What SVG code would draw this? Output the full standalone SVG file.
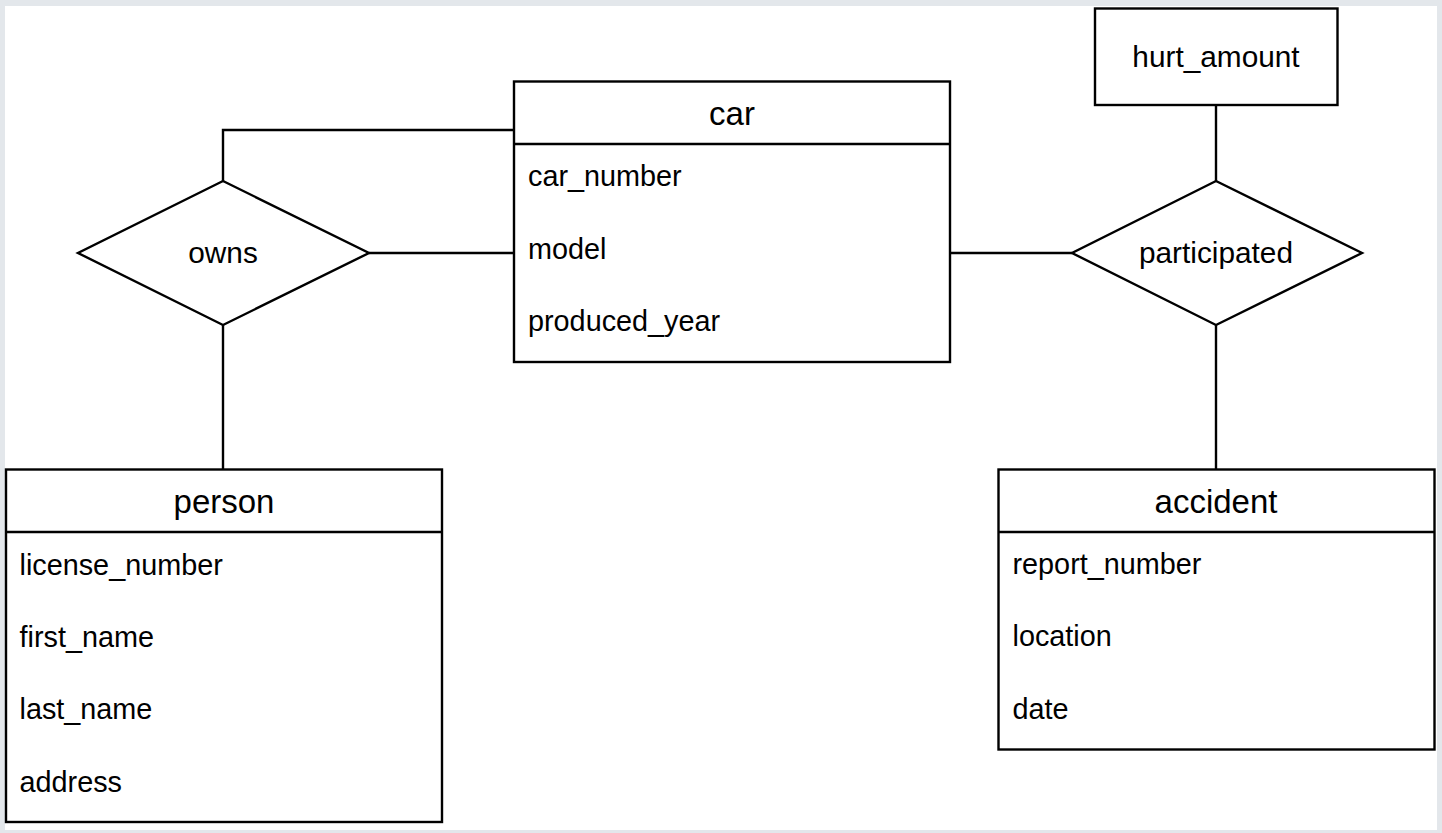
<svg xmlns="http://www.w3.org/2000/svg" width="1442" height="833" viewBox="0 0 1442 833">
<style>
.shape{fill:#ffffff;stroke:#000000;stroke-width:2.4}
.line{fill:none;stroke:#000000;stroke-width:2.4}
.title{font-family:"Liberation Sans",Arial,sans-serif;font-size:33px;fill:#000000;text-anchor:middle}
.attr{font-family:"Liberation Sans",Arial,sans-serif;font-size:28.8px;fill:#000000}
.lbl{font-family:"Liberation Sans",Arial,sans-serif;font-size:29.8px;fill:#000000;text-anchor:middle}
</style>
<rect x="0" y="0" width="1442" height="833" fill="#e3e7eb"/>
<rect x="5" y="6" width="1432" height="824" fill="#ffffff"/>
<g id="connectors">
<polyline class="line" points="223,181 223,130 514,130"/>
<line class="line" x1="369" y1="253" x2="514" y2="253"/>
<line class="line" x1="223" y1="325" x2="223" y2="469"/>
<line class="line" x1="950" y1="253" x2="1072" y2="253"/>
<line class="line" x1="1216" y1="105" x2="1216" y2="181"/>
<line class="line" x1="1216" y1="325" x2="1216" y2="469"/>
</g>
<g id="car">
<rect class="shape" x="514" y="81.5" width="436" height="280.5"/>
<line class="line" x1="514" y1="144" x2="950" y2="144"/>
<text class="title" x="732" y="125">car</text>
<text class="attr" x="528" y="186">car_number</text>
<text class="attr" x="528" y="258.5">model</text>
<text class="attr" x="528" y="331">produced_year</text>
</g>
<g id="owns">
<polygon class="shape" points="223,181 369,253 223,325 78,253"/>
<text class="lbl" x="223" y="263">owns</text>
</g>
<g id="person">
<rect class="shape" x="6" y="469.5" width="436" height="352.5"/>
<line class="line" x1="6" y1="532" x2="442" y2="532"/>
<text class="title" x="224" y="513">person</text>
<text class="attr" x="19.5" y="574.5">license_number</text>
<text class="attr" x="19.5" y="647">first_name</text>
<text class="attr" x="19.5" y="719">last_name</text>
<text class="attr" x="19.5" y="791.5">address</text>
</g>
<g id="participated">
<polygon class="shape" points="1216,181 1362,253 1216,325 1072,253"/>
<text class="lbl" x="1216" y="263">participated</text>
</g>
<g id="hurt_amount">
<rect class="shape" x="1095" y="8.5" width="242.5" height="96.5"/>
<text class="lbl" x="1216" y="66.5">hurt_amount</text>
</g>
<g id="accident">
<rect class="shape" x="998.5" y="469.5" width="436" height="280"/>
<line class="line" x1="998.5" y1="532" x2="1434.5" y2="532"/>
<text class="title" x="1216" y="513">accident</text>
<text class="attr" x="1012.5" y="574">report_number</text>
<text class="attr" x="1012.5" y="646">location</text>
<text class="attr" x="1012.5" y="718.5">date</text>
</g>
</svg>
